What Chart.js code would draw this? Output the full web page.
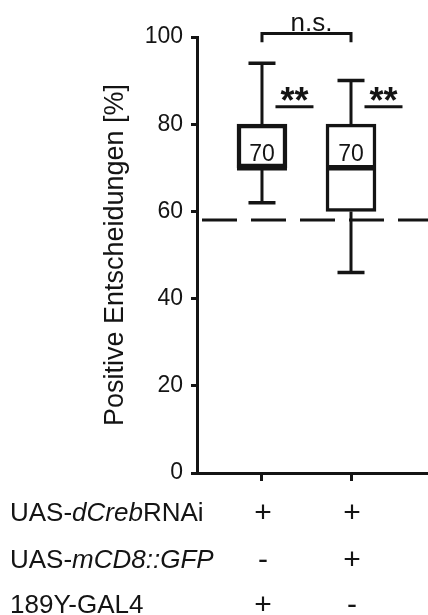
<!DOCTYPE html>
<html>
<head>
<meta charset="utf-8">
<script src="https://cdn.jsdelivr.net/npm/chart.js@4.4.0/dist/chart.umd.min.js"></script>
<style>
  html, body { margin: 0; padding: 0; background: #fff; }
</style>
</head>
<body>
<canvas id="chart" width="428" height="615"></canvas>
<script>
const FONT = "'Liberation Sans', Arial, Helvetica, sans-serif";
const INK = '#141414';

// two genotypes, box plot summary per group
const groupX = [1, 2];
const q1 = [70, 60];
const q3 = [80, 80];
const medians = [70, 70];
const whiskerLow = [62, 46];
const whiskerHigh = [94, 90];

const chanceLevel = 58;
const yTicks = [0, 20, 40, 60, 80, 100];
const stars = ['**', '**'];
const nsText = 'n.s.';

// genotype table below the x axis: [text, italic]
const rowNames = [
  [['UAS-', false], ['dCreb', true], ['RNAi', false]],
  [['UAS-', false], ['mCD8::GFP', true]],
  [['189Y-GAL4', false]]
];
const rowSigns = [
  ['+', '+'],
  ['-', '+'],
  ['+', '-']
];

const xMin = 0.27;
const xMax = 2.865;

const boxPlotExtras = {
  id: 'boxPlotExtras',
  afterDatasetsDraw(chart) {
    const { ctx, scales: { x, y } } = chart;
    const bars = chart.getDatasetMeta(0).data;
    ctx.save();
    ctx.strokeStyle = INK;
    ctx.fillStyle = INK;
    ctx.lineCap = 'butt';

    groupX.forEach((gx, i) => {
      const cx = x.getPixelForValue(gx);
      const half = bars[i].width / 2;

      // whiskers
      ctx.lineWidth = 3;
      ctx.beginPath();
      ctx.moveTo(cx, y.getPixelForValue(q3[i]));
      ctx.lineTo(cx, y.getPixelForValue(whiskerHigh[i]));
      ctx.moveTo(cx, y.getPixelForValue(q1[i]));
      ctx.lineTo(cx, y.getPixelForValue(whiskerLow[i]));
      ctx.stroke();

      ctx.lineWidth = 3.5;
      ctx.beginPath();
      [whiskerHigh[i], whiskerLow[i]].forEach(v => {
        const py = y.getPixelForValue(v);
        ctx.moveTo(cx - 13.5, py);
        ctx.lineTo(cx + 13.5, py);
      });
      ctx.stroke();

      // median
      const my = y.getPixelForValue(medians[i]);
      ctx.lineWidth = 5.5;
      ctx.beginPath();
      ctx.moveTo(cx - half, my);
      ctx.lineTo(cx + half, my);
      ctx.stroke();

      ctx.font = '23px ' + FONT;
      ctx.textAlign = 'center';
      ctx.textBaseline = 'alphabetic';
      ctx.fillText(String(medians[i]), cx, my - 6.5);

      // significance vs. chance level
      const sx = x.getPixelForValue(gx + 0.365);
      const uy = y.getPixelForValue(84);
      ctx.lineWidth = 3;
      ctx.beginPath();
      ctx.moveTo(sx - 19, uy);
      ctx.lineTo(sx + 19, uy);
      ctx.stroke();
      ctx.font = 'bold 36px ' + FONT;
      const m = ctx.measureText(stars[i]);
      ctx.fillText(stars[i], sx, uy - 6 - m.actualBoundingBoxDescent);
    });

    // bracket between the groups
    const bx1 = x.getPixelForValue(groupX[0]);
    const bx2 = x.getPixelForValue(groupX[1]);
    const by = y.getPixelForValue(100.8);
    const bEnd = y.getPixelForValue(98.8);
    ctx.lineWidth = 3;
    ctx.beginPath();
    ctx.moveTo(bx1, bEnd);
    ctx.lineTo(bx1, by);
    ctx.lineTo(bx2, by);
    ctx.lineTo(bx2, bEnd);
    ctx.stroke();
    ctx.font = '26px ' + FONT;
    ctx.textAlign = 'center';
    ctx.fillText(nsText, (bx1 + bx2) / 2 + 5, by - 3);

    // genotype table
    const base = chart.chartArea.bottom;
    const rowY = [base + 48, base + 95, base + 140];
    rowNames.forEach((parts, r) => {
      let px = 10;
      ctx.textAlign = 'left';
      parts.forEach(([t, italic]) => {
        ctx.font = (italic ? 'italic ' : '') + '26px ' + FONT;
        ctx.fillText(t, px, rowY[r]);
        px += ctx.measureText(t).width;
      });
      ctx.textAlign = 'center';
      ctx.font = '30px ' + FONT;
      rowSigns[r].forEach((s, i) => {
        ctx.fillText(s, x.getPixelForValue(groupX[i]) + 1, rowY[r] + 1);
      });
    });
    ctx.restore();
  }
};

new Chart(document.getElementById('chart'), {
  data: {
    datasets: [
      {
        type: 'bar',
        data: groupX.map((gx, i) => ({ x: gx, y: [q1[i], q3[i]] })),
        backgroundColor: '#ffffff',
        borderColor: INK,
        borderWidth: [4.5, 3.5],
        borderSkipped: false,
        barThickness: 50
      },
      {
        type: 'line',
        data: [{ x: xMin, y: chanceLevel }, { x: xMax, y: chanceLevel }],
        borderColor: INK,
        borderWidth: 3,
        borderDash: [35, 14],
        borderDashOffset: -5,
        pointRadius: 0,
        fill: false
      }
    ]
  },
  options: {
    responsive: false,
    animation: false,
    layout: { padding: { top: 37, left: 0, right: 0, bottom: 0 } },
    plugins: {
      legend: { display: false },
      tooltip: { enabled: false }
    },
    scales: {
      x: {
        type: 'linear',
        min: xMin,
        max: xMax,
        offset: false,
        bounds: 'data',
        afterBuildTicks: scale => { scale.ticks = groupX.map(v => ({ value: v })); },
        afterFit: scale => { scale.height = 142; },
        ticks: { display: false },
        grid: { offset: false, drawOnChartArea: false, drawTicks: true, tickLength: 8, tickWidth: 3, tickColor: INK },
        border: { display: true, color: INK, width: 3 }
      },
      y: {
        min: 0,
        max: 100,
        afterBuildTicks: scale => { scale.ticks = yTicks.map(v => ({ value: v })); },
        afterFit: scale => { scale.width = 197; },
        ticks: { color: INK, font: { family: FONT, size: 23 }, padding: 8 },
        grid: { drawOnChartArea: false, drawTicks: true, tickLength: 6, tickWidth: 3, tickColor: INK },
        border: { display: true, color: INK, width: 3 },
        title: {
          display: true,
          text: 'Positive Entscheidungen [%]',
          color: INK,
          font: { family: FONT, size: 27 },
          padding: { top: 99, bottom: 0 }
        }
      }
    }
  },
  plugins: [boxPlotExtras]
});
</script>
</body>
</html>
